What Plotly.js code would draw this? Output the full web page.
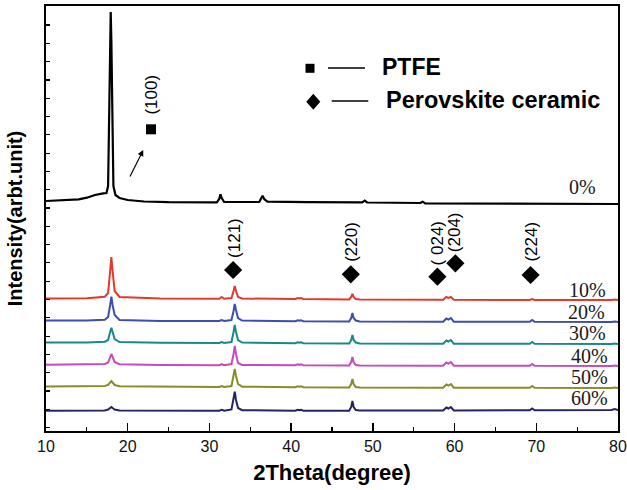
<!DOCTYPE html>
<html><head><meta charset="utf-8">
<script src="https://cdn.plot.ly/plotly-3.0.1.min.js"></script>
<style>html,body{margin:0;padding:0;background:#fff}#chart{width:627px;height:490px}</style>
</head><body><div id="chart"></div>
<script>
// ---- Data (intensity in arbitrary units, curves already stacked) ----
const twoTheta0 = [10, 12, 14, 15, 16, 17, 17.4, 17.6, 17.75, 17.85, 17.92, 18.0, 18.1, 18.25, 18.5, 19, 20, 22, 25, 30.9, 31.2, 31.35, 31.5, 31.8, 36.1, 36.35, 36.5, 36.7, 37.1, 42, 48.7, 49.0, 49.3, 55.8, 56.1, 56.4, 63, 70, 80];
const int0 = [230, 230.5, 231.7, 233.3, 236, 237.7, 238, 245, 320, 400, 419, 390, 300, 245, 236, 233, 231, 229.5, 228.8, 228.7, 232, 236.7, 233, 229, 229, 233, 235.3, 232, 229.3, 228.8, 228.7, 230.3, 228.5, 228, 229.3, 227.7, 227.5, 227, 227];

const twoThetaCeramic = [10, 15, 17.2, 17.6, 17.85, 18.0, 18.15, 18.4, 19.0, 24, 31.2, 31.5, 31.8, 32.7, 32.95, 33.1, 33.25, 33.5, 34.0, 40.5, 40.8, 41.0, 41.2, 41.5, 47.1, 47.35, 47.5, 47.65, 47.9, 48.4, 58.6, 59.0, 59.25, 59.55, 59.9, 69.2, 69.5, 69.8, 79.2, 79.6, 80];
const int10 = [132.5, 132.8, 134.3, 138, 160, 174, 160, 140, 134, 132.5, 132.3, 134, 132.3, 133, 140, 145, 140, 134, 132.5, 132, 133, 132.5, 133, 132, 131.5, 134, 137, 134, 132, 131.5, 131.3, 134, 133, 134, 131.3, 131, 132, 131, 131, 131.5, 131];
const int20 = [110.5, 110.5, 111.3, 114, 126, 134.3, 126, 116, 111, 110, 110, 111, 110, 111, 120, 127, 121, 113, 110.5, 109.8, 110.8, 110.2, 110.8, 109.8, 109.5, 113, 118, 113, 110.5, 109.5, 109.2, 112.5, 111.5, 113, 109.3, 109.2, 111, 109.2, 109, 109.5, 109];
const int30 = [88.5, 88.5, 89.3, 91, 99, 103.3, 99, 92, 89, 88.2, 88, 89, 88, 89, 99, 106, 99, 91, 88.5, 87.8, 88.8, 88.2, 88.8, 87.8, 87.5, 91, 96, 91, 88.5, 87.5, 87.3, 90.5, 89.5, 91, 87.3, 87.2, 89, 87.2, 87, 87.5, 87];
const int40 = [66.3, 66.3, 67, 68.5, 74, 77, 74, 69, 66.8, 66, 65.8, 66.8, 65.8, 67, 77, 85, 77, 68, 66, 65.7, 66.7, 66, 66.7, 65.7, 65.5, 69, 74, 69, 66, 65.4, 65.3, 68.5, 67.5, 69, 65.3, 65.2, 67, 65.2, 65, 65.5, 65];
const int50 = [44.5, 44.5, 45, 46, 48.5, 50, 48.5, 46, 44.8, 44.2, 44, 45, 44, 45, 54, 62, 55, 47, 44.3, 43.8, 44.8, 44.2, 44.8, 43.8, 43.6, 47, 52, 47, 44, 43.4, 43.3, 46.5, 45.5, 47, 43.3, 43.2, 45, 43.2, 43, 43.5, 43];
const int60 = [20.3, 20.3, 20.6, 21.5, 23, 24, 23, 21.5, 20.5, 20.3, 20.3, 21.2, 20.3, 21.5, 31, 39.3, 31, 23, 20.8, 20.3, 21.3, 20.7, 21.3, 20.3, 20.3, 24, 30, 24, 21, 20.5, 20.5, 23.5, 22.5, 24, 20.6, 20.7, 22.5, 20.8, 21, 22, 21];

const seriesNames = ['0%', '10%', '20%', '30%', '40%', '50%', '60%'];
const seriesColors = ['#000000', '#e5382c', '#3d4db0', '#17898a', '#c64bbd', '#8a8a2a', '#232466'];
const labelY = [244, 141, 119.3, 98.3, 75, 54, 33];
const labelX = [77.6, 78.8, 78.7, 78.8, 79.0, 79.0, 79.0];

const hklLabels = ['(121)', '(220)', '( 024)', '(204)', '(224)'];
const hklPos = [32.9, 47.3, 57.9, 60.1, 69.3];
const hklMarkerY = [161, 156.7, 154.3, 167.7, 156];
const hklLabelX = [33.0, 47.3, 57.9, 59.95, 69.3];
const hklLabelY = [193, 189, 188, 199, 189];

const ptfeLabel = ['(100)'];
const ptfePos = [22.85];
const ptfeMarkerY = [301.7];
const ptfeLabelX = [22.8];
const ptfeLabelY = [336];

// ---- Build traces ----
const ceramicY = [int10, int20, int30, int40, int50, int60];
const traces = [];
traces.push({x: twoTheta0, y: int0, mode: 'lines', name: seriesNames[0],
  line: {color: seriesColors[0], width: 2.2}, showlegend: false});
ceramicY.forEach((ys, i) => {
  traces.push({x: twoThetaCeramic, y: ys, mode: 'lines', name: seriesNames[i + 1],
    line: {color: seriesColors[i + 1], width: 2}, showlegend: false});
});
traces.push({x: hklPos, y: hklMarkerY, mode: 'markers', name: 'Perovskite ceramic',
  marker: {symbol: 'diamond', size: 14, color: '#000'}, showlegend: false});
traces.push({x: ptfePos, y: ptfeMarkerY, mode: 'markers', name: 'PTFE',
  marker: {symbol: 'square', size: 10, color: '#000'}, showlegend: false});

// ---- Layout helpers (pixel -> paper) ----
const L = 46, R = 618, T = 6, B = 431;
const PX = px => (px - L) / (R - L);
const PY = py => (B - py) / (B - T);

const annotations = [];
seriesNames.forEach((n, i) => {
  annotations.push({x: labelX[i], y: labelY[i], xref: 'x', yref: 'y', text: n, showarrow: false,
    xanchor: 'right', yanchor: 'middle', font: {family: 'Liberation Serif, Times New Roman, serif', size: 20, color: '#1a1a1a'}});
});
hklLabels.forEach((t, i) => {
  annotations.push({x: hklLabelX[i], y: hklLabelY[i], xref: 'x', yref: 'y', text: t, showarrow: false,
    textangle: -90, xanchor: 'center', yanchor: 'middle', font: {family: 'Liberation Sans, Arial, sans-serif', size: 17, color: '#000'}});
});
annotations.push({x: ptfeLabelX[0], y: ptfeLabelY[0], xref: 'x', yref: 'y', text: ptfeLabel[0], showarrow: false,
  textangle: -90, font: {family: 'Liberation Sans, Arial, sans-serif', size: 17, color: '#000'}});
// arrow
annotations.push({x: 21.9, y: 281, xref: 'x', yref: 'y', ax: -14, ay: 28, text: '', showarrow: true,
  arrowhead: 2, arrowsize: 1, arrowwidth: 1.2, arrowcolor: '#000'});
// legend texts
annotations.push({x: PX(380), y: PY(67), xref: 'paper', yref: 'paper', text: '<b>PTFE</b>', showarrow: false,
  xanchor: 'left', yanchor: 'middle', font: {family: 'Liberation Sans, Arial, sans-serif', size: 23, color: '#000'}});
annotations.push({x: PX(384), y: PY(100), xref: 'paper', yref: 'paper', text: '<b>Perovskite ceramic</b>', showarrow: false,
  xanchor: 'left', yanchor: 'middle', font: {family: 'Liberation Sans, Arial, sans-serif', size: 23.5, color: '#000'}});

const dx = 7, dy = 8, cx = 313.3, cy = 101.7;
const shapes = [
  {type: 'rect', xref: 'paper', yref: 'paper', x0: PX(305.5), x1: PX(314.5), y0: PY(72.8), y1: PY(63.8), fillcolor: '#000', line: {width: 0}},
  {type: 'line', xref: 'paper', yref: 'paper', x0: PX(328), x1: PX(365), y0: PY(68), y1: PY(68), line: {color: '#000', width: 1.3}},
  {type: 'path', xref: 'paper', yref: 'paper',
    path: `M ${PX(cx)},${PY(cy - dy)} L ${PX(cx + dx)},${PY(cy)} L ${PX(cx)},${PY(cy + dy)} L ${PX(cx - dx)},${PY(cy)} Z`,
    fillcolor: '#000', line: {width: 0}},
  {type: 'line', xref: 'paper', yref: 'paper', x0: PX(331.7), x1: PX(368.3), y0: PY(101), y1: PY(101), line: {color: '#000', width: 1.3}}
];

const layout = {
  width: 627, height: 490,
  margin: {l: L, r: 627 - R, t: T, b: 490 - B},
  paper_bgcolor: '#fff', plot_bgcolor: '#fff',
  showlegend: false,
  xaxis: {
    range: [10, 80], tick0: 10, dtick: 10, ticks: 'inside', ticklen: 8, tickwidth: 1.5, tickcolor: '#000',
    minor: {ticks: 'inside', dtick: 5, ticklen: 4.5, tickwidth: 1.2, tickcolor: '#000'},
    showline: true, linewidth: 1.8, linecolor: '#000', mirror: true,
    showgrid: false, zeroline: false,
    tickfont: {family: 'Liberation Sans, Arial, sans-serif', size: 16, color: '#111'},
    title: {text: '<b>2Theta(degree)</b>', standoff: 10, font: {family: 'Liberation Sans, Arial, sans-serif', size: 22, color: '#000'}}
  },
  yaxis: {
    range: [0, 425], showticklabels: false, ticks: 'inside', ticklen: 4, tickwidth: 1.2, tickcolor: '#000',
    tick0: 3.4, dtick: 18.3,
    showline: true, linewidth: 1.8, linecolor: '#000', mirror: true,
    showgrid: false, zeroline: false,
    title: {text: '<b>Intensity(arbt.unit)</b>', standoff: 16, font: {family: 'Liberation Sans, Arial, sans-serif', size: 20, color: '#000'}}
  },
  yaxis2: {
    overlaying: 'y', side: 'right', range: [0, 425], showticklabels: false, ticks: 'outside', ticklen: 3,
    tickwidth: 1, tickcolor: '#000', tick0: 7, dtick: 19, showline: false, showgrid: false, zeroline: false
  },
  annotations: annotations,
  shapes: shapes
};

Plotly.newPlot('chart', traces, layout, {displayModeBar: false, staticPlot: true});
</script></body></html>
